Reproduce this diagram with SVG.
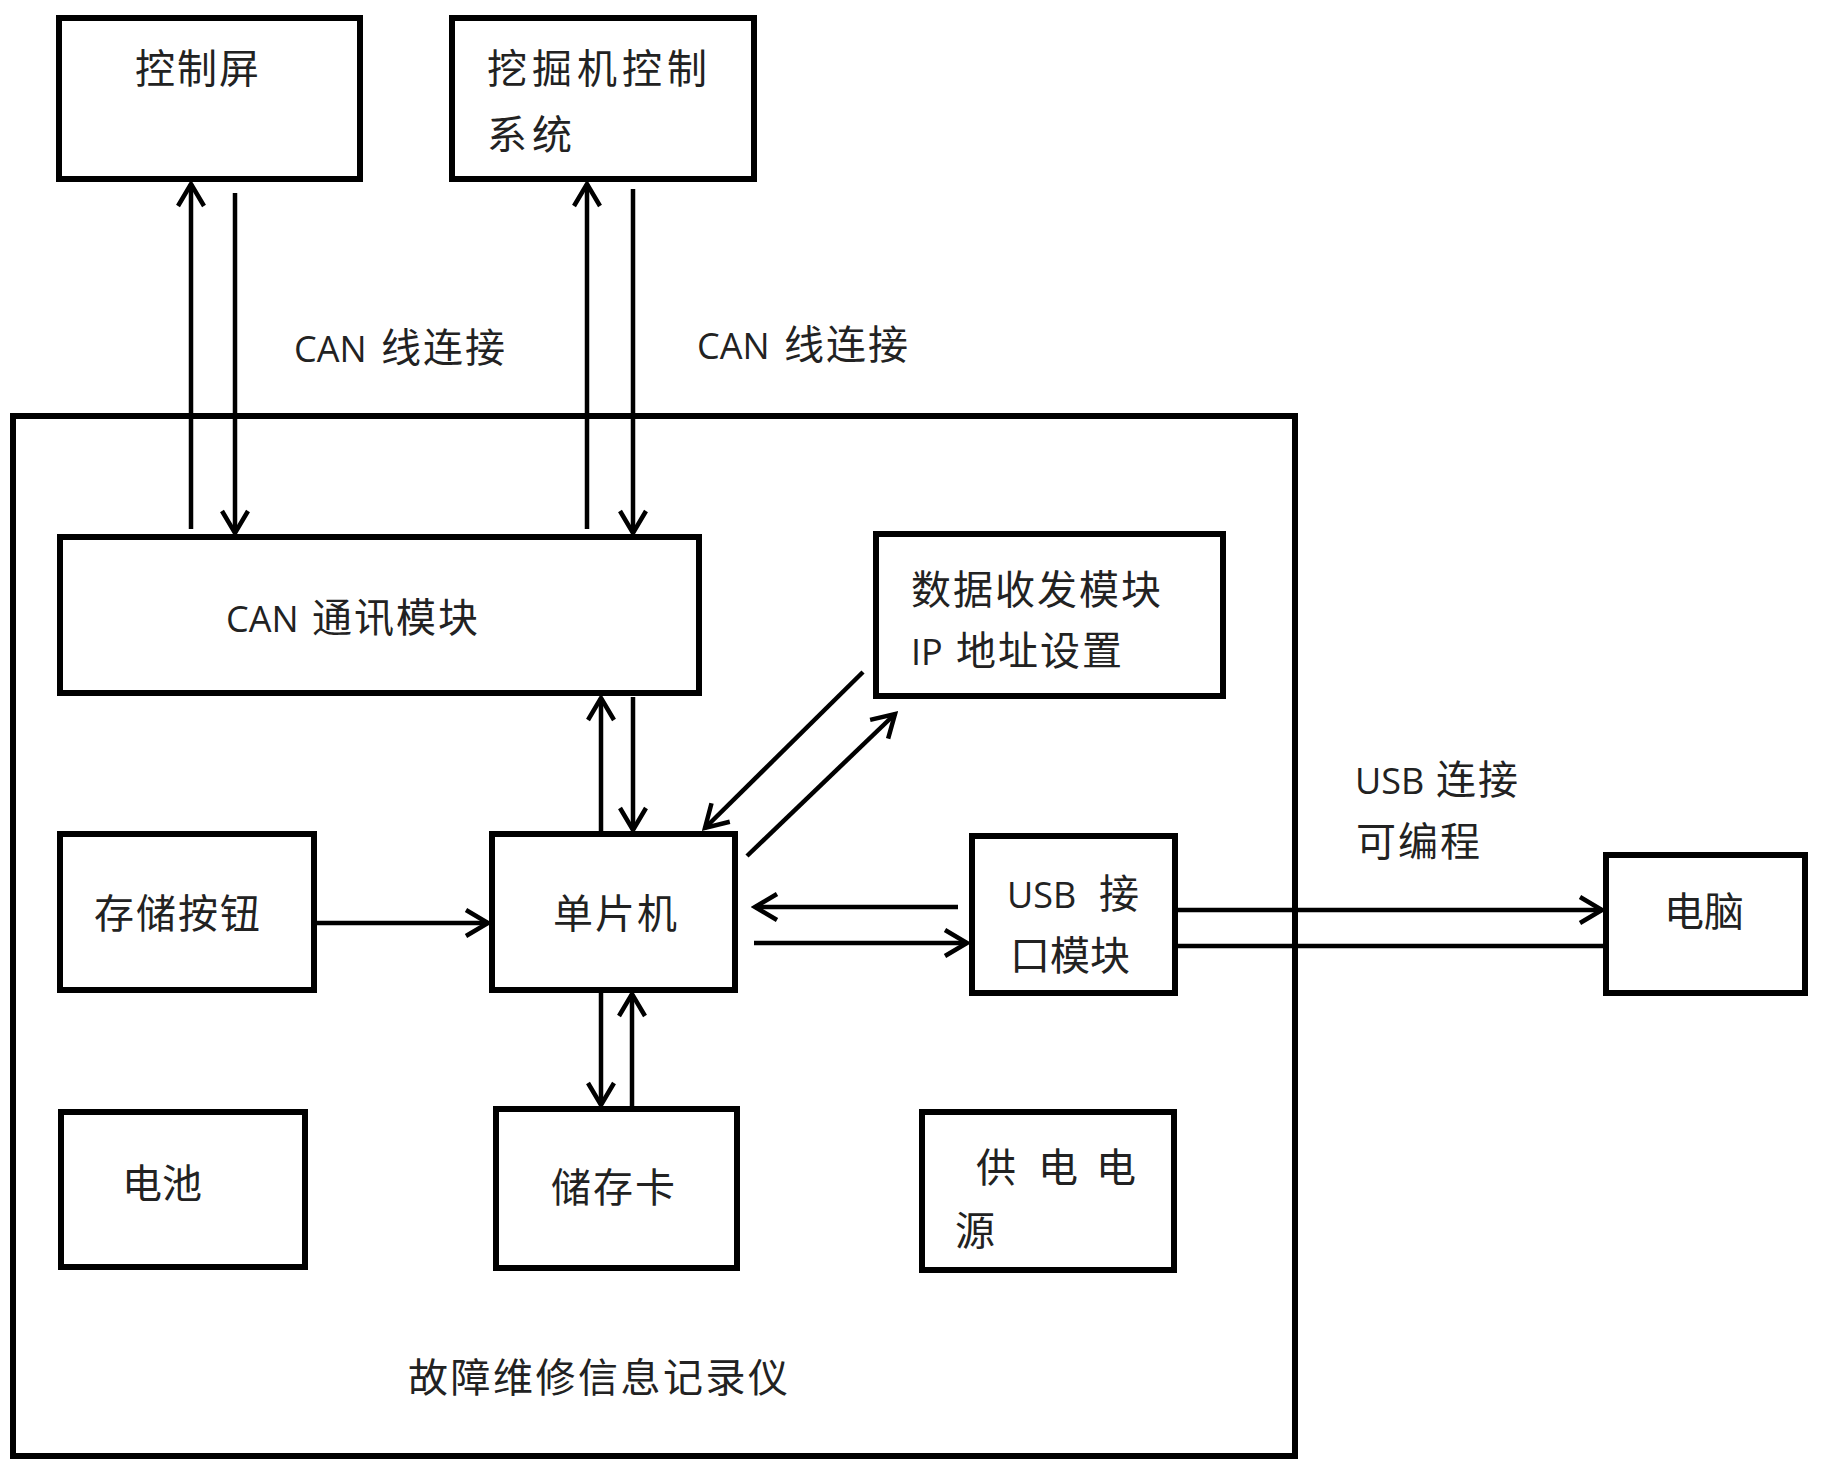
<svg xmlns="http://www.w3.org/2000/svg" width="1824" height="1467" viewBox="0 0 1824 1467">
<style>
.box{fill:none;stroke:#000;stroke-width:6}
.ln{fill:none;stroke:#000;stroke-width:4.5}
.t{font-family:"Noto Sans CJK SC","Noto Sans",sans-serif;font-size:40px;fill:#222}
.lat{font-family:"Open Sans","Noto Sans",sans-serif;font-size:36px}
</style>
<defs>
<marker id="ah" markerUnits="userSpaceOnUse" viewBox="-30 -20 34 40" refX="0" refY="0" markerWidth="34" markerHeight="40" orient="auto">
<path d="M-22,-13 L0,0 L-22,13" fill="none" stroke="#000" stroke-width="4.5"/>
</marker>
</defs>
<rect width="1824" height="1467" fill="#fff"/>
<g id="recorder">
<rect class="box" x="13" y="416" width="1282" height="1040"/>
<text class="t" x="408" y="1392" letter-spacing="2.5">故障维修信息记录仪</text>
</g>
<g id="control-screen">
<rect class="box" x="59" y="18" width="301" height="161"/>
<text class="t" x="135" y="83" letter-spacing="2">控制屏</text>
</g>
<g id="excavator-control">
<rect class="box" x="452" y="18" width="302" height="161"/>
<text class="t" x="487" y="83" letter-spacing="5">挖掘机控制</text>
<text class="t" x="487" y="149" letter-spacing="5">系统</text>
</g>
<g id="can-module">
<rect class="box" x="60" y="537" width="639" height="156"/>
<text class="t" x="226" y="632"><tspan class="lat">CAN</tspan><tspan x="312" letter-spacing="2">通讯模块</tspan></text>
</g>
<g id="data-module">
<rect class="box" x="876" y="534" width="347" height="162"/>
<text class="t" x="911" y="604" letter-spacing="2">数据收发模块</text>
<text class="t" x="911" y="665"><tspan class="lat">IP</tspan><tspan x="956" letter-spacing="2">地址设置</tspan></text>
</g>
<g id="store-button">
<rect class="box" x="60" y="834" width="254" height="156"/>
<text class="t" x="94" y="928" letter-spacing="2">存储按钮</text>
</g>
<g id="mcu">
<rect class="box" x="492" y="834" width="243" height="156"/>
<text class="t" x="553" y="928" letter-spacing="2">单片机</text>
</g>
<g id="usb-module">
<rect class="box" x="972" y="836" width="203" height="157"/>
<text class="t" x="1007" y="908"><tspan class="lat">USB</tspan><tspan x="1099">接</tspan></text>
<text class="t" x="1010" y="970">口模块</text>
</g>
<g id="computer">
<rect class="box" x="1606" y="855" width="199" height="138"/>
<text class="t" x="1664" y="926">电脑</text>
</g>
<g id="battery">
<rect class="box" x="61" y="1112" width="244" height="155"/>
<text class="t" x="122" y="1198">电池</text>
</g>
<g id="memory-card">
<rect class="box" x="496" y="1109" width="241" height="159"/>
<text class="t" x="551" y="1202" letter-spacing="2">储存卡</text>
</g>
<g id="power-supply">
<rect class="box" x="922" y="1112" width="252" height="158"/>
<text class="t" x="976 1038 1096" y="1182">供电电</text>
<text class="t" x="955" y="1245">源</text>
</g>
<g id="labels">
<text class="t" x="294" y="362"><tspan class="lat">CAN</tspan><tspan x="381" letter-spacing="2">线连接</tspan></text>
<text class="t" x="697" y="359"><tspan class="lat">CAN</tspan><tspan x="784" letter-spacing="2">线连接</tspan></text>
<text class="t" x="1355" y="794"><tspan class="lat">USB</tspan><tspan x="1436" letter-spacing="2">连接</tspan></text>
<text class="t" x="1356" y="856" letter-spacing="2">可编程</text>
</g>
<g id="connectors">
<line class="ln" x1="191" y1="529" x2="191" y2="184" marker-end="url(#ah)"/>
<line class="ln" x1="235" y1="193" x2="235" y2="533" marker-end="url(#ah)"/>
<line class="ln" x1="587" y1="529" x2="587" y2="184" marker-end="url(#ah)"/>
<line class="ln" x1="633" y1="189" x2="633" y2="533" marker-end="url(#ah)"/>
<line class="ln" x1="601" y1="831" x2="601" y2="698" marker-end="url(#ah)"/>
<line class="ln" x1="633" y1="697" x2="633" y2="830" marker-end="url(#ah)"/>
<line class="ln" x1="317" y1="923" x2="488" y2="923" marker-end="url(#ah)"/>
<line class="ln" x1="958" y1="907" x2="755" y2="907" marker-end="url(#ah)"/>
<line class="ln" x1="754" y1="943" x2="967" y2="943" marker-end="url(#ah)"/>
<line class="ln" x1="863" y1="672" x2="705" y2="828" marker-end="url(#ah)"/>
<line class="ln" x1="747" y1="856" x2="895" y2="714" marker-end="url(#ah)"/>
<line class="ln" x1="1178" y1="910" x2="1602" y2="910" marker-end="url(#ah)"/>
<line class="ln" x1="1178" y1="946" x2="1603" y2="946"/>
<line class="ln" x1="601" y1="993" x2="601" y2="1105" marker-end="url(#ah)"/>
<line class="ln" x1="632" y1="1106" x2="632" y2="994" marker-end="url(#ah)"/>
</g>
</svg>
